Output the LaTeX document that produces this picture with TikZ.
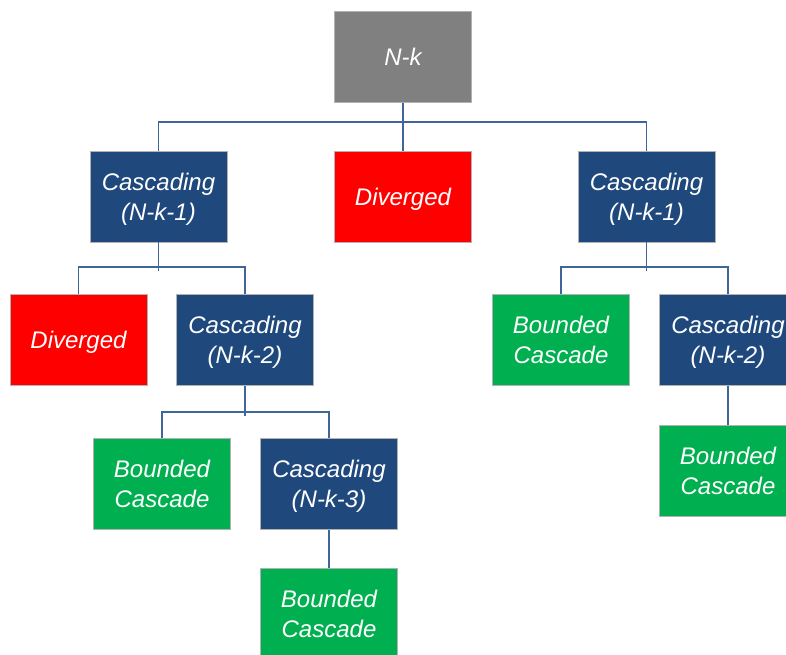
\documentclass[tikz,border=0pt]{standalone}
\usepackage{fontspec}
\setmainfont{Liberation Sans}
\usepackage{tikz}
\usetikzlibrary{positioning}

\definecolor{navy}{HTML}{1F497D}
\definecolor{boxred}{HTML}{FF0000}
\definecolor{boxgreen}{HTML}{00B050}
\definecolor{boxgray}{HTML}{808080}
\definecolor{linkblue}{HTML}{3F6699}

\tikzset{
    box/.style={draw=white!70!black, line width=0.4pt, minimum width=137pt, minimum height=91pt,
        inner sep=0pt, align=center, text=white, text depth=0pt,
        font=\fontsize{24}{30}\selectfont\itshape},
    casc/.style={box, fill=navy},
    div/.style={box, fill=boxred},
    bnd/.style={box, fill=boxgreen},
    root/.style={box, fill=boxgray},
    link/.style={draw=linkblue, line width=1.5pt}
}

\begin{document}
\begin{tikzpicture}[x=1pt, y=-1pt]
    \useasboundingbox (0,0) rectangle (786,655);
    % levels of the tree
    \node[root] (nk) at (403,57) {N-k};
    \node[casc] (c1) at (158.5,196.5) {Cascading\\(N-k-1)};
    \node[div] (dv1) at (403,196.5) {Diverged};
    \node[casc] (c2) at (646.5,196.5) {Cascading\\(N-k-1)};
    \node[div] (dv2) at (78.5,340) {Diverged};
    \node[casc] (c3) at (245,340) {Cascading\\(N-k-2)};
    \node[bnd] (b1) at (561,340) {Bounded\\Cascade};
    \node[casc] (c4) at (728,340) {Cascading\\(N-k-2)};
    \node[bnd] (b2) at (162,484) {Bounded\\Cascade};
    \node[casc] (c5) at (329,484) {Cascading\\(N-k-3)};
    \node[bnd] (b3) at (329,614) {Bounded\\Cascade};
    \node[bnd] (b4) at (728,470.5) {Bounded\\Cascade};

    % bars between levels
    \coordinate (bar0) at (403,122);
    \coordinate (bar1) at (158.5,267);
    \coordinate (j1) at (158.5,271);
    \coordinate (bar2) at (646.5,267);
    \coordinate (j2) at (646.5,271);
    \coordinate (bar3) at (245,412);
    \coordinate (j3) at (245,416);

    \draw[link] (nk.south) -- (dv1.north);
    \draw[link] (c1.north) |- (bar0) -| (c2.north);
    \draw[link] (c1.south) -- (j1);
    \draw[link] (dv2.north) |- (bar1) -| (c3.north);
    \draw[link] (c2.south) -- (j2);
    \draw[link] (b1.north) |- (bar2) -| (c4.north);
    \draw[link] (c3.south) -- (j3);
    \draw[link] (b2.north) |- (bar3) -| (c5.north);
    \draw[link] (c5.south) -- (b3.north);
    \draw[link] (c4.south) -- (b4.north);
\end{tikzpicture}
\end{document}
